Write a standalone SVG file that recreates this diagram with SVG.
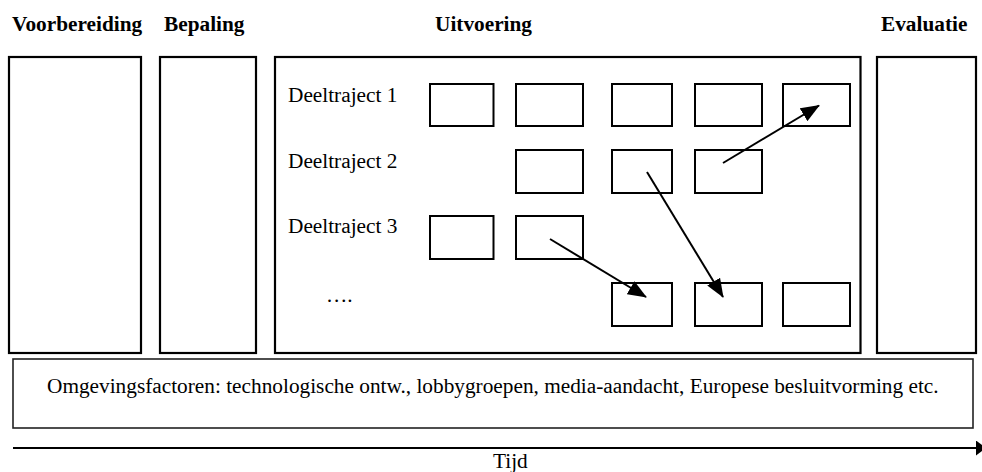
<svg xmlns="http://www.w3.org/2000/svg" width="982" height="472" viewBox="0 0 982 472">
<style>
  .phase { fill: #fff; stroke: #000; stroke-width: 2.2; }
  .step { fill: #fff; stroke: #000; stroke-width: 2; }
  .env { fill: #fff; stroke: #222; stroke-width: 1.6; }
  .head { font-family: "Liberation Serif", "Times New Roman", serif; font-weight: bold; font-size: 21.3px; fill: #000; }
  .lbl { font-family: "Liberation Serif", "Times New Roman", serif; font-size: 21.3px; fill: #000; }
  .conn { stroke: #000; stroke-width: 2; fill: none; }
</style>
<defs>
  <marker id="ah" markerUnits="userSpaceOnUse" markerWidth="19" markerHeight="15" refX="18" refY="7.5" orient="auto">
    <path d="M0,0 L19,7.5 L0,15 z" fill="#000"/>
  </marker>
  <marker id="th" markerUnits="userSpaceOnUse" markerWidth="10" markerHeight="15" refX="0" refY="7.5" orient="auto">
    <path d="M0,0 L10,7.5 L0,15 z" fill="#000"/>
  </marker>
</defs>
<rect width="982" height="472" fill="#fff"/>

<g id="headings">
  <text class="head" x="12" y="31">Voorbereiding</text>
  <text class="head" x="164" y="31">Bepaling</text>
  <text class="head" x="435" y="31">Uitvoering</text>
  <text class="head" x="881" y="31">Evaluatie</text>
</g>

<g id="voorbereiding"><rect class="phase" x="9" y="57" width="132" height="296"/></g>
<g id="bepaling"><rect class="phase" x="160" y="57" width="96" height="296"/></g>
<g id="uitvoering"><rect class="phase" x="275" y="57" width="585.5" height="296"/></g>
<g id="evaluatie"><rect class="phase" x="877" y="57" width="99" height="296"/></g>

<g id="deeltraject-labels">
  <text class="lbl" x="288" y="102">Deeltraject 1</text>
  <text class="lbl" x="288" y="168">Deeltraject 2</text>
  <text class="lbl" x="288" y="233">Deeltraject 3</text>
  <text class="lbl" x="326" y="302">….</text>
</g>

<g id="r1c1"><rect class="step" x="430" y="84" width="63.5" height="42"/></g>
<g id="r1c2"><rect class="step" x="516" y="84" width="67" height="42"/></g>
<g id="r1c3"><rect class="step" x="612" y="84" width="60" height="42"/></g>
<g id="r1c4"><rect class="step" x="695" y="84" width="67" height="42"/></g>
<g id="r1c5"><rect class="step" x="783" y="84" width="67" height="42"/></g>

<g id="r2c2"><rect class="step" x="516" y="150" width="67" height="43"/></g>
<g id="r2c3"><rect class="step" x="612" y="150" width="60" height="43"/></g>
<g id="r2c4"><rect class="step" x="695" y="150" width="67" height="43"/></g>

<g id="r3c1"><rect class="step" x="430" y="216" width="63.5" height="43"/></g>
<g id="r3c2"><rect class="step" x="516" y="216" width="67" height="43"/></g>

<g id="r4c3"><rect class="step" x="612" y="283" width="60" height="43"/></g>
<g id="r4c4"><rect class="step" x="695" y="283" width="67" height="43"/></g>
<g id="r4c5"><rect class="step" x="783" y="283" width="67" height="43"/></g>

<g id="omgevingsfactoren">
  <rect class="env" x="13" y="359" width="960" height="69"/>
  <text class="lbl" x="47" y="393" font-size="20.3">Omgevingsfactoren: technologische ontw., lobbygroepen, media-aandacht, Europese besluitvorming etc.</text>
</g>

<g id="connectors">
  <line class="conn" x1="723" y1="163" x2="819" y2="105.5" marker-end="url(#ah)"/>
  <line class="conn" x1="647" y1="172" x2="723" y2="297" marker-end="url(#ah)"/>
  <line class="conn" x1="550" y1="239" x2="646" y2="297" marker-end="url(#ah)"/>
  <line class="conn" x1="13" y1="448" x2="976" y2="448" marker-end="url(#th)"/>
</g>

<g id="tijd"><text class="lbl" x="493" y="468" font-size="24.5">Tijd</text></g>
</svg>
